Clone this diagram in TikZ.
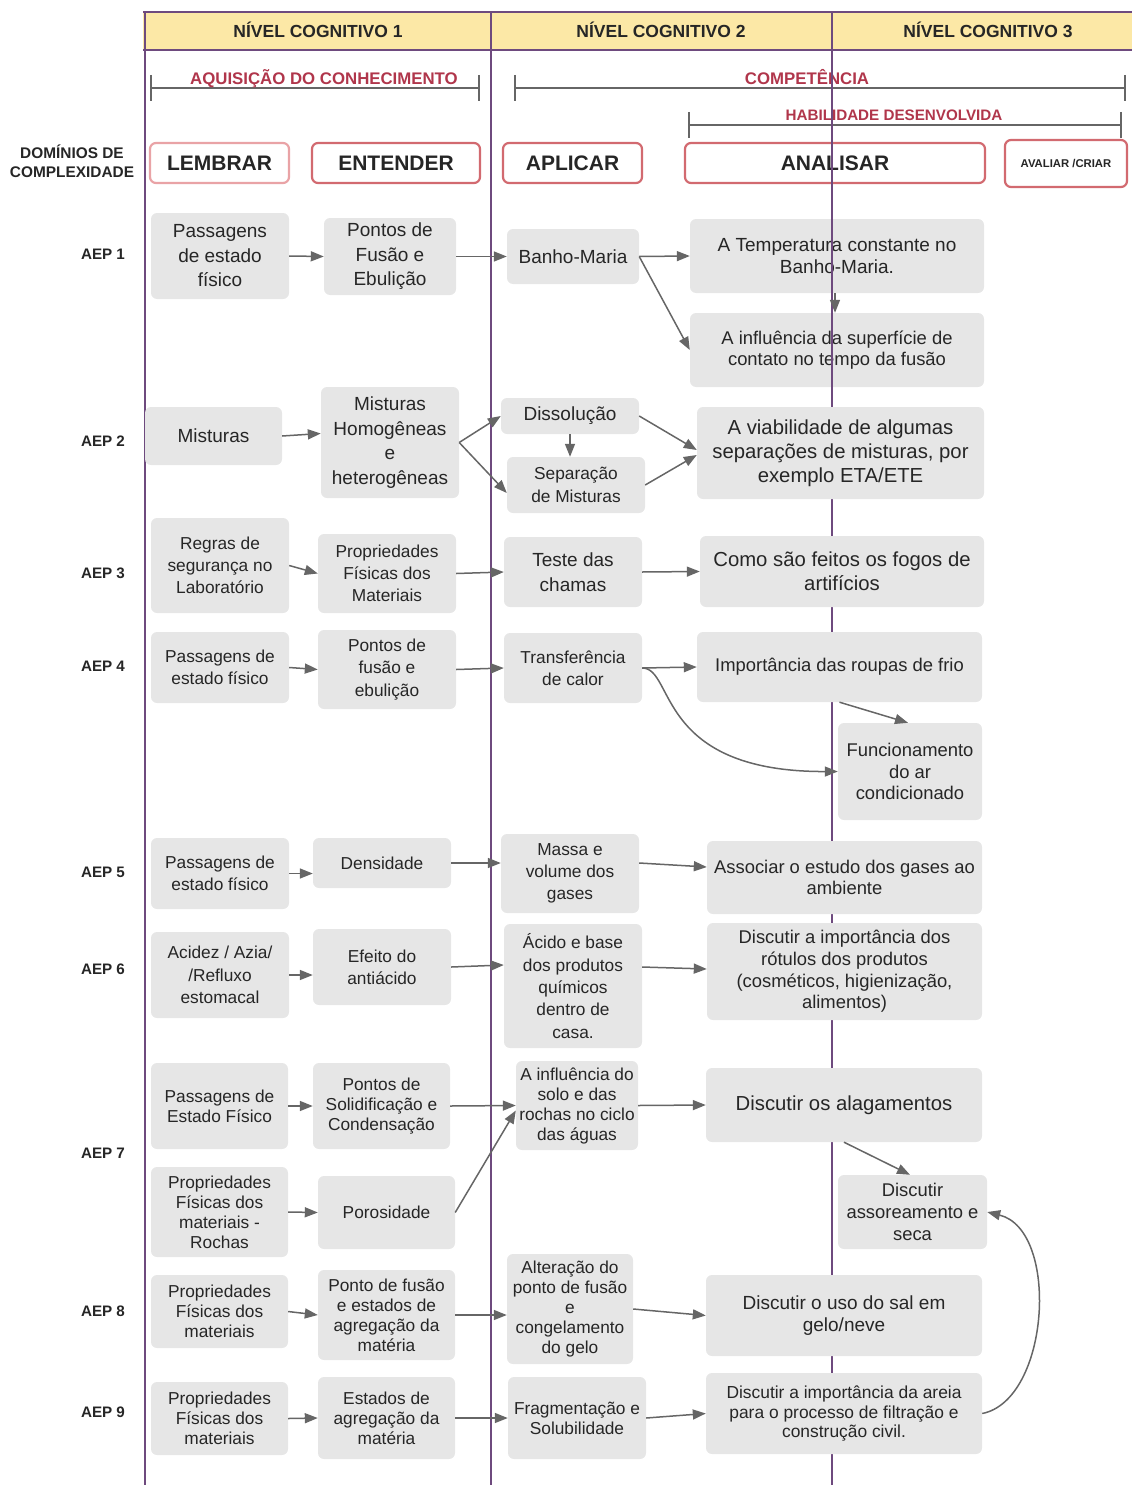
\documentclass[tikz,border=0pt]{standalone}
\usepackage{fontspec}
\setmainfont{Liberation Sans}
\usetikzlibrary{arrows.meta}

\definecolor{band}{HTML}{FCE8A6}
\definecolor{lav}{HTML}{6E4A7E}
\definecolor{boxgray}{HTML}{E6E6E6}
\definecolor{txt}{HTML}{262626}
\definecolor{arrgray}{HTML}{666666}
\definecolor{hred}{HTML}{D26A70}
\definecolor{hredl}{HTML}{E9A3A6}
\definecolor{labred}{HTML}{B0364B}
\definecolor{brk}{HTML}{666666}

% content box given by its corners: name, x1, y1, x2, y2, font style, text
\newcommand\bx[7]{\node[box,#6,minimum width={#4-#2},minimum height={#5-#3}] (#1) at ({(#2+#4)/2},{(#3+#5)/2}) {#7};}
% header box of a complexity domain
\newcommand\hbx[7]{\node[hbox,#6,minimum width={#4-#2},minimum height={#5-#3}] (#1) at ({(#2+#4)/2},{(#3+#5)/2}) {#7};}

\tikzset{
  box/.style={fill=boxgray, rounded corners=6pt, inner sep=2pt, align=center, text=txt},
  fa/.style={font=\fontsize{17.3}{22.3}\selectfont},
  fb/.style={font=\fontsize{19}{24.5}\selectfont},
  fc/.style={font=\fontsize{17.3}{20}\selectfont},
  ra/.style={font=\fontsize{17.4}{19.8}\selectfont},
  rb/.style={font=\fontsize{18.4}{21.6}\selectfont},
  rc/.style={font=\fontsize{19}{22}\selectfont},
  rd/.style={font=\fontsize{20.3}{23.8}\selectfont},
  hbox/.style={draw=hred, line width=2.2pt, fill=white, rounded corners=6pt, inner sep=0pt,
    text=txt, font=\bfseries\fontsize{21}{24}\selectfont},
  lvl/.style={text=txt, font=\bfseries\fontsize{17.5}{20}\selectfont},
  aep/.style={text=txt, font=\bfseries\fontsize{15.2}{18}\selectfont},
  brtext/.style={text=labred, anchor=base, font=\bfseries\fontsize{16.8}{20}\selectfont},
  bracket/.style={draw=brk, line width=2pt},
  vline/.style={draw=lav, line width=2.6pt},
  arr/.style={draw=arrgray, line width=1.5pt, -{Triangle[length=13pt,width=10pt]}},
}

\begin{document}
\begin{tikzpicture}[x=1pt,y=-1pt]
\useasboundingbox (0,0) rectangle (1132,1485);

% level band
\fill[band] (143,12) rectangle (1132,50);
\draw[vline] (143,12) -- (1132,12);
\draw[vline, line width=2pt] (143,50) -- (1132,50);
\node[lvl] (n1) at (318,30) {NÍVEL COGNITIVO 1};
\node[lvl] (n2) at (661,30) {NÍVEL COGNITIVO 2};
\node[lvl] (n3) at (988,30) {NÍVEL COGNITIVO 3};

% column separators
\draw[vline] (145,12) -- (145,1485);
\draw[vline] (491,12) -- (491,1485);
\draw[vline] (832,12) -- (832,1485);

% brackets
\draw[bracket] (151,75) -- (151,101) (151,88) -- (479,88) (479,75) -- (479,101);
\node[brtext] (tAq) at (324,85) {AQUISIÇÃO DO CONHECIMENTO};
\draw[bracket] (515,75) -- (515,101) (515,88) -- (1125,88) (1125,75) -- (1125,101);
\node[brtext] (tCo) at (807,85) {COMPETÊNCIA};
\draw[bracket] (689,112) -- (689,138) (689,125) -- (1121,125) (1121,112) -- (1121,138);
\node[brtext, font=\bfseries\fontsize{15.2}{18}\selectfont] (tHa) at (894,121) {HABILIDADE DESENVOLVIDA};

% complexity domains
\node[text=txt, align=center, font=\bfseries\fontsize{15.4}{19}\selectfont] (dom) at (72,161) {DOMÍNIOS DE\\COMPLEXIDADE};
\hbx{hLem}{150}{143}{289}{183}{draw=hredl}{LEMBRAR}
\hbx{hEnt}{312}{143}{480}{183}{}{ENTENDER}
\hbx{hApl}{503}{143}{642}{183}{}{APLICAR}
\hbx{hAna}{685}{143}{985}{183}{}{ANALISAR}
\hbx{hAva}{1005}{140}{1127}{187}{font=\bfseries\fontsize{11.3}{13}\selectfont}{AVALIAR /CRIAR}

% row labels
\node[aep] (l1) at (103,254) {AEP 1};
\node[aep] (l2) at (103,441) {AEP 2};
\node[aep] (l3) at (103,573) {AEP 3};
\node[aep] (l4) at (103,666) {AEP 4};
\node[aep] (l5) at (103,872) {AEP 5};
\node[aep] (l6) at (103,969) {AEP 6};
\node[aep] (l7) at (103,1153) {AEP 7};
\node[aep] (l8) at (103,1311) {AEP 8};
\node[aep] (l9) at (103,1412) {AEP 9};

% AEP 1
\bx{A1}{151}{213}{289}{299}{fb}{Passagens\\de estado\\físico}
\bx{B1}{324}{218}{456}{295}{fb}{Pontos de\\Fusão e\\Ebulição}
\bx{C1}{507}{229}{639}{284}{fb}{Banho-Maria}
\bx{D1}{690}{219}{984}{293}{rc}{A Temperatura constante no\\Banho-Maria.}
\bx{D1b}{690}{313}{984}{387}{rb}{A influência da superfície de\\contato no tempo da fusão}
% AEP 2
\bx{A2}{145}{407}{282}{465}{fb}{Misturas}
\bx{B2}{321}{387}{459}{498}{fb}{Misturas\\Homogêneas\\e\\heterogêneas}
\bx{C2a}{501}{398}{639}{434}{fb}{Dissolução}
\bx{C2b}{507}{457}{645}{513}{fa}{Separação\\de Misturas}
\bx{D2}{697}{407}{984}{499}{rd}{A viabilidade de algumas\\separações de misturas, por\\exemplo ETA/ETE}
% AEP 3
\bx{A3}{151}{518}{289}{613}{fa}{Regras de\\segurança no\\Laboratório}
\bx{B3}{318}{534}{456}{613}{fa}{Propriedades\\Físicas dos\\Materiais}
\bx{C3}{504}{537}{642}{607}{fb}{Teste das\\chamas}
\bx{D3}{700}{536}{984}{607}{rd}{Como são feitos os fogos de\\artifícios}
% AEP 4
\bx{A4}{151}{632}{289}{703}{fa}{Passagens de\\estado físico}
\bx{B4}{318}{630}{456}{709}{fa}{Pontos de\\fusão e\\ebulição}
\bx{C4}{504}{633}{642}{703}{fa}{Transferência\\de calor}
\bx{D4}{697}{632}{982}{702}{rb}{Importância das roupas de frio}
\bx{E4}{838}{723}{982}{820}{rb}{Funcionamento\\do ar\\condicionado}
% AEP 5
\bx{A5}{151}{838}{289}{909}{fa}{Passagens de\\estado físico}
\bx{B5}{313}{838}{451}{888}{fa}{Densidade}
\bx{C5}{501}{834}{639}{913}{fa}{Massa e\\volume dos\\gases}
\bx{D5}{707}{841}{982}{914}{rb}{Associar o estudo dos gases ao\\ambiente}
% AEP 6
\bx{A6}{151}{932}{289}{1018}{fa}{Acidez / Azia/\\/Refluxo\\estomacal}
\bx{B6}{313}{929}{451}{1005}{fa}{Efeito do\\antiácido}
\bx{C6}{504}{924}{642}{1048}{fa}{Ácido e base\\dos produtos\\químicos\\dentro de\\casa.}
\bx{D6}{707}{923}{982}{1020}{rb}{Discutir a importância dos\\rótulos dos produtos\\(cosméticos, higienização,\\alimentos)}
% AEP 7
\bx{A7a}{151}{1063}{288}{1149}{fc}{Passagens de\\Estado Físico}
\bx{B7a}{313}{1063}{450}{1149}{fc}{Pontos de\\Solidificação e\\Condensação}
\bx{C7}{516}{1061}{638}{1150}{fc}{A influência do\\solo e das\\rochas no ciclo\\das águas}
\bx{D7}{706}{1068}{982}{1142}{rd}{Discutir os alagamentos}
\bx{A7b}{151}{1167}{288}{1257}{fc}{Propriedades\\Físicas dos\\materiais -\\Rochas}
\bx{B7b}{318}{1176}{455}{1249}{fc}{Porosidade}
\bx{E7}{838}{1175}{987}{1249}{rb}{Discutir\\assoreamento e\\seca}
% AEP 8
\bx{A8}{151}{1275}{288}{1348}{fc}{Propriedades\\Físicas dos\\materiais}
\bx{B8}{318}{1270}{455}{1360}{fc}{Ponto de fusão\\e estados de\\agregação da\\matéria}
\bx{C8}{507}{1254}{633}{1364}{fc}{Alteração do\\ponto de fusão\\e\\congelamento\\do gelo}
\bx{D8}{706}{1275}{982}{1356}{rc}{Discutir o uso do sal em\\gelo/neve}
% AEP 9
\bx{A9}{151}{1382}{288}{1455}{fc}{Propriedades\\Físicas dos\\materiais}
\bx{B9}{318}{1377}{455}{1459}{fc}{Estados de\\agregação da\\matéria}
\bx{C9}{508}{1377}{646}{1459}{fc}{Fragmentação e\\Solubilidade}
\bx{D9}{706}{1373}{982}{1454}{ra}{Discutir a importância da areia\\para o processo de filtração e\\construção civil.}

% third-level separator runs over the upper part of the chart
\draw[vline] (832,12) -- (832,402);

% connectors
\draw[arr] (A1.east) -- (B1.west);
\draw[arr] (B1.east) -- (C1.west);
\draw[arr] (C1.east) -- (D1.west);
\draw[arr] (C1.east) -- (D1b.west);
\draw[arr] ([xshift=-2pt]D1.south) -- ([xshift=-2pt]D1b.north);

\draw[arr] (A2.east) -- ([yshift=9pt]B2.west);
\draw[arr] (B2.east) -- (C2a.west);
\draw[arr] (B2.east) -- ([yshift=-8pt]C2b.west);
\draw[arr] (C2a.south) -- (C2a.south |- C2b.north);
\draw[arr] (C2a.east) -- ([yshift=3pt]D2.west);
\draw[arr] (C2b.east) -- ([yshift=-2pt]D2.west);

\draw[arr] (A3.east) -- (B3.west);
\draw[arr] (B3.east) -- (C3.west);
\draw[arr] (C3.east) -- (D3.west);

\draw[arr] (A4.east) -- (B4.west);
\draw[arr] (B4.east) -- (C4.west);
\draw[arr] (C4.east) -- (D4.west);
\draw[arr] (D4.south) -- ([xshift=-2pt]E4.north);
\draw[arr] (C4.east) .. controls (675,668) and (655,772) .. (E4.west);

\draw[arr] (A5.east) -- (A5.east -| B5.west);
\draw[arr] (B5.east) -- (C5.west |- B5.east);
\draw[arr] ([yshift=10.5pt]C5.east) -- ([yshift=10.5pt]D5.west);

\draw[arr] (A6.east) -- (A6.east -| B6.west);
\draw[arr] (B6.east) -- ([yshift=21pt]C6.west);
\draw[arr] ([yshift=19pt]C6.east) -- ([yshift=2.5pt]D6.west);

\draw[arr] (A7a.east) -- (B7a.west);
\draw[arr] (B7a.east) -- (C7.west);
\draw[arr] (B7b.east) -- ([yshift=-5pt]C7.west);
\draw[arr] (C7.east) -- (D7.west);
\draw[arr] (A7b.east) -- (B7b.west);
\draw[arr] (D7.south) -- ([xshift=-2.5pt]E7.north);

\draw[arr] (A8.east) -- (B8.west);
\draw[arr] (B8.east) -- (B8.east -| C8.west);
\draw[arr] (C8.east) -- (D8.west);

\draw[arr] (A9.east) -- (B9.west);
\draw[arr] (B9.east) -- (C9.west);
\draw[arr] (C9.east) -- (D9.west);
\draw[arr] (D9.east) .. controls (1050,1400) and (1060,1230) .. (E7.east);
\end{tikzpicture}
\end{document}
